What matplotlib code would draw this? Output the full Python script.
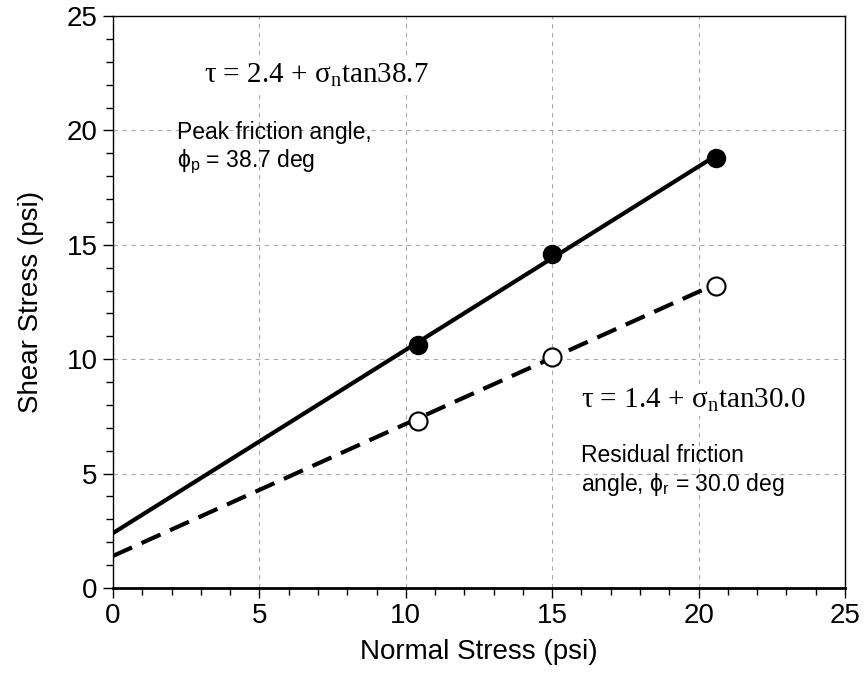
import numpy as np
import matplotlib.pyplot as plt
from matplotlib.ticker import MultipleLocator

plt.close('all')

# test data
normal = [10.4, 15.0, 20.6]
peak = [10.6, 14.6, 18.8]
residual = [7.3, 10.1, 13.2]

# fitted envelopes: tau = c + sigma_n * tan(phi)
c_peak, phi_peak = 2.4, 38.7
c_res, phi_res = 1.4, 30.0

sans = ['Liberation Sans', 'DejaVu Sans']
serif = ['Liberation Serif', 'DejaVu Serif']
plt.rcParams['font.family'] = sans
plt.rcParams['mathtext.fontset'] = 'custom'
plt.rcParams['mathtext.rm'] = 'Liberation Sans'

fig = plt.figure(figsize=(8.65, 7.0), dpi=100)
ax = fig.add_axes([113/865, 1-588/700, (845-113)/865, (588-16)/700])

xs = np.array([0, max(normal)])
ax.plot(xs, c_peak + xs*np.tan(np.radians(phi_peak)), '-', color='k', lw=3)
ax.plot(xs, c_res + xs*np.tan(np.radians(phi_res)), '--', color='k', lw=3, dashes=(5, 2.5))
ax.plot(normal, peak, 'o', ms=13, mfc='k', mec='k')
ax.plot(normal, residual, 'o', ms=13, mfc='white', mec='k', mew=1.5)

ax.axis([0, 25, 0, 25])
ax.xaxis.set_major_locator(MultipleLocator(5))
ax.yaxis.set_major_locator(MultipleLocator(5))
ax.xaxis.set_minor_locator(MultipleLocator(1))
ax.yaxis.set_minor_locator(MultipleLocator(1))
ax.tick_params(which='major', direction='out', length=7, width=1, labelsize=20, pad=4)
ax.tick_params(which='minor', direction='out', length=5, width=1)
ax.grid(True, which='major', ls=(0, (4, 4)), color='#aaaaaa', lw=0.8)
for s in ax.spines.values():
    s.set_linewidth(1)
ax.spines['bottom'].set_linewidth(2)

ax.set_xlabel('Normal Stress (psi)', fontsize=20, labelpad=7)
ax.set_ylabel('Shear Stress (psi)', fontsize=20, labelpad=16)

ax.text(3.1, 22.4, r'τ = %.1f + σ$_\mathregular{n}$tan%.1f' % (c_peak, phi_peak),
        family=serif, fontsize=21, va='center', bbox=dict(fc='white', ec='none', pad=1))
ax.text(2.2, 19.2, 'Peak friction angle,\nϕ$_\mathregular{p}$ = %.1f deg' % phi_peak,
        fontsize=16.5, va='center', linespacing=1.2)
ax.text(16.0, 8.2, r'τ = %.1f + σ$_\mathregular{n}$tan%.1f' % (c_res, phi_res),
        family=serif, fontsize=21, va='center', bbox=dict(fc='white', ec='none', pad=1))
ax.text(16.0, 5.1, 'Residual friction\nangle, ϕ$_\mathregular{r}$ = %.1f deg' % phi_res,
        fontsize=16.5, va='center', linespacing=1.2)

plt.savefig('out.png', dpi=100)
